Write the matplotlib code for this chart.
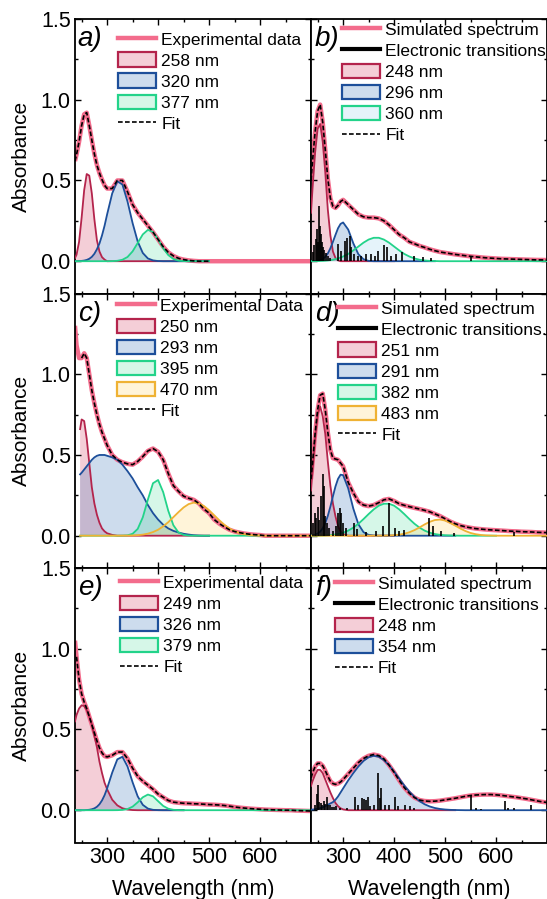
import matplotlib
matplotlib.use("Agg")
import matplotlib.pyplot as plt
from matplotlib.patches import Patch
from matplotlib.lines import Line2D
from matplotlib.colors import to_rgba
from matplotlib.ticker import MultipleLocator

plt.rcParams['font.family'] = ['Liberation Sans', 'DejaVu Sans']

# wavelength grid (nm) shared by every curve
WL = [237, 240, 245, 250, 255, 260, 265, 270, 275, 280, 285, 290, 295, 300,
      310, 320, 330, 340, 350, 360, 370, 380, 390, 400, 410, 420, 430, 440,
      450, 460, 470, 480, 490, 500, 510, 520, 530, 540, 550, 560, 570, 580,
      590, 600, 610, 620, 630, 640, 650, 660, 670, 680, 690, 700]
# panel c components start at 247 nm
WL_C = [247] + WL[3:]

# ---- a) experimental ----
exp_a = [.62, .66, .74, .84, .91, .92, .84, .75, .665, .595, .545, .505, .47, .45,
         .45, .50, .50, .43, .35, .30, .26, .22, .18, .135, .09, .055, .033, .018,
         .01, .005, .002, 0, 0, 0, 0, 0, 0, 0, 0, 0, 0, 0, 0, 0, 0, 0, 0, 0, 0, 0, 0, 0, 0, 0]
fit_a = exp_a[:34]
a_258 = [.02, .04, .12, .27, .44, .54, .53, .42, .26, .13, .06, .025, .01, 0,
         0, 0, 0, 0, 0, 0, 0, 0, 0, 0, 0, 0, 0, 0, 0, 0, 0, 0, 0, 0]
a_320 = [0, 0, .001, .002, .004, .008, .015, .027, .046, .074, .11, .16, .22, .29,
         .42, .495, .475, .37, .236, .122, .051, .017, .005, .001, 0, 0, 0, 0, 0, 0, 0, 0, 0, 0]
a_377 = [0, 0, 0, 0, 0, 0, 0, 0, 0, 0, 0, 0, 0, 0,
         .0005, .0025, .009, .026, .061, .113, .166, .194, .181, .135, .08, .038, .014, .004,
         .001, 0, 0, 0, 0, 0]

# ---- b) simulated ----
sim_b = [.50, .62, .80, .93, .97, .86, .69, .51, .39, .34, .33, .345, .37, .38,
         .35, .32, .29, .275, .27, .27, .265, .25, .225, .195, .165, .145, .12, .108,
         .095, .085, .074, .065, .057, .052, .047, .042, .038, .034, .030, .027, .024, .021,
         .019, .017, .015, .014, .013, .012, .011, .010, .009, .008, .008, .007]
fit_b = sim_b
b_248 = [.30, .45, .67, .82, .85, .74, .55, .32, .16, .06, .02, .005, 0, 0,
         0, 0, 0, 0, 0, 0, 0, 0, 0, 0]
b_296 = [.0002, .0004, .001, .003, .0064, .014, .027, .048, .08, .12, .163, .204, .231, .24,
         .196, .111, .043, .012, .002, 0, 0, 0, 0, 0, 0, 0, 0, 0, 0, 0, 0, 0]
b_360 = [.0003, .0004, .0006, .001, .0015, .002, .003, .0045, .0065, .009, .013, .017, .023, .029,
         .045, .067, .091, .115, .134, .145, .145, .134, .115, .091, .067, .045, .029, .017,
         .009, .0045, .002, .001, 0, 0, 0, 0, 0, 0, 0, 0, 0, 0, 0, 0, 0, 0, 0, 0, 0, 0, 0, 0, 0, 0]
sticks_b_nm = [240, 243, 246, 249, 251, 253, 255, 257, 259, 261, 263, 266, 270, 275,
               290, 296, 303, 308, 313, 316, 321, 329, 336, 345, 355, 362, 368, 381,
               387, 394, 404, 416, 440, 457, 473, 551]
sticks_b_h = [.06, .10, .14, .20, .12, .34, .22, .17, .12, .09, .07, .05, .03, .02,
              .105, .064, .125, .146, .156, .085, .043, .033, .033, .043, .047, .033, .064, .10,
              .085, .033, .043, .054, .033, .025, .02, .025]

# ---- c) experimental ----
exp_c = [1.30, 1.18, 1.10, 1.10, 1.13, 1.10, 1.00, .90, .82, .75, .69, .64, .60, .56,
         .50, .47, .455, .445, .44, .46, .49, .525, .54, .52, .47, .385, .31, .275,
         .245, .232, .222, .20, .165, .14, .10, .075, .055, .037, .026, .019, .013, .009,
         .006, .004, 0, 0, 0, 0, 0, 0, 0, 0, 0, 0]
fit_c = exp_c[3:]
c_250 = [.66, .72, .71, .60, .45, .30, .20, .13, .08, .045, .027, .015,
         .005, 0, 0, 0, 0, 0, 0, 0, 0, 0, 0, 0, 0, 0, 0, 0, 0, 0, 0, 0]
c_293 = [.38, .39, .41, .43, .45, .47, .485, .495, .50, .50, .50, .495,
         .485, .47, .44, .40, .355, .30, .25, .19, .14, .10, .068, .045, .03, .02,
         .012, .007, .003, .001, 0, 0]
c_395 = [0, 0, 0, 0, 0, 0, 0, 0, 0, 0, 0, 0,
         0, 0, .0004, .0023, .012, .042, .114, .224, .325, .345, .27, .154, .065, .02,
         .005, .001, 0, 0, 0, 0, 0, 0, 0, 0, 0, 0, 0, 0, 0, 0]
c_470 = [0, 0, 0, 0, 0, 0, 0, 0, 0, 0, 0, 0,
         0, 0, .0003, .0007, .0015, .0033, .0067, .0127, .0225, .037, .058, .084, .115, .146,
         .175, .196, .205, .20, .184, .158, .127, .096, .068, .045, .028, .016, .0087, .0044,
         .002, .001, 0, 0, 0, 0, 0, 0, 0, 0, 0, 0]

# ---- d) simulated ----
sim_d = [.35, .45, .63, .78, .87, .88, .78, .64, .53, .48, .475, .47, .45, .43,
         .33, .265, .21, .19, .183, .19, .205, .222, .228, .215, .198, .188, .18, .172,
         .165, .157, .148, .135, .122, .105, .088, .074, .063, .055, .049, .044, .041, .038,
         .036, .034, .032, .030, .028, .027, .025, .024, .023, .021, .020, .019]
fit_d = sim_d
d_251 = [.28, .40, .60, .75, .80, .74, .63, .46, .31, .20, .12, .06, .025, .01,
         0, 0, 0, 0, 0, 0, 0, 0, 0, 0]
d_291 = [.0014, .0026, .006, .013, .025, .046, .078, .123, .18, .244, .305, .352, .378, .375,
         .293, .168, .071, .022, .005, .001, 0, 0, 0, 0, 0, 0, 0, 0, 0, 0, 0, 0, 0, 0, 0, 0]
d_382 = [0, 0, 0, .0005, .0008, .0012, .0018, .0026, .0037, .0053, .0075, .0103, .014, .0186,
         .0315, .05, .074, .103, .134, .163, .186, .198, .198, .186, .163, .134, .103, .074,
         .05, .0315, .0186, .0103, .0053, .0026, .0012, .0005, 0, 0, 0, 0, 0, 0, 0, 0]
d_483 = [0, 0, 0, 0, 0, 0, 0, 0, 0, 0, 0, 0, 0, 0,
         0, 0, 0, 0, 0, 0, 0, .0005, .0012, .0028, .0061, .012, .0214, .0347,
         .0515, .07, .086, .097, .10, .094, .08, .0625, .0445, .029, .017, .0093, .0046, .002,
         .0009, 0, 0, 0, 0, 0, 0, 0, 0, 0, 0, 0]
sticks_d_nm = [241, 244, 247, 251, 253, 257, 260, 262, 265, 268, 272, 280, 287, 290, 293,
               296, 300, 305, 322, 327, 345, 365, 378, 391, 401, 410, 420, 469, 476, 492,
               518, 636]
sticks_d_h = [.08, .14, .11, .18, .10, .245, .38, .306, .12, .08, .05, .03, .06, .14, .17,
              .14, .08, .05, .08, .04, .025, .03, .06, .20, .05, .03, .037, .11, .058, .027,
              .017, .02]

# ---- e) experimental ----
exp_e = [1.05, .95, .81, .72, .67, .63, .58, .53, .48, .43, .385, .355, .335, .33,
         .34, .36, .36, .32, .26, .21, .18, .155, .13, .10, .08, .06, .05, .046,
         .043, .042, .04, .039, .037, .035, .034, .032, .029, .025, .02, .016, .013, .01,
         .008, .006, .004, .003, .002, .001, 0, 0, -.002, -.003, -.004, -.005]
fit_e = exp_e[1:]
e_249 = [.55, .59, .63, .65, .645, .62, .58, .53, .46, .39, .30, .23, .17, .13,
         .065, .03, .012, .004, .001, 0, 0, 0, 0, 0, 0, 0, 0, 0, 0]
e_326 = [0, 0, 0, 0, 0, .0012, .0027, .0058, .0114, .0212, .037, .0607, .093, .135,
         .233, .315, .331, .271, .173, .0858, .0332, .01, .0023, .0004, 0, 0, 0, 0, 0]
e_379 = [0, 0, 0, 0, 0, 0, 0, 0, 0, 0, 0, 0, 0, 0,
         0, .0003, .0018, .0073, .022, .049, .08, .097, .086, .056, .0265, .0093, .0024, .0005,
         0, 0, 0, 0, 0, 0, 0, 0, 0, 0, 0, 0, 0, 0, 0, 0, 0, 0, 0, 0, 0, 0, 0, 0, 0, 0]

# ---- f) simulated ----
sim_f = [.20, .23, .27, .29, .29, .275, .245, .21, .18, .165, .16, .165, .175, .19,
         .225, .26, .295, .32, .337, .345, .338, .318, .28, .235, .185, .14, .105, .078,
         .063, .057, .055, .056, .059, .064, .069, .074, .080, .086, .091, .094, .096, .097,
         .097, .095, .092, .088, .084, .08, .075, .07, .064, .058, .052, .048]
fit_f = sim_f
f_248 = [.15, .18, .22, .25, .25, .23, .19, .15, .11, .075, .045, .025, .012, .005,
         0, 0, 0, 0, 0, 0, 0, 0, 0, 0, 0, 0, 0, 0, 0, 0, 0, 0, 0, 0, 0, 0]
f_354 = [.003, .004, .006, .009, .013, .018, .025, .034, .042, .05, .065, .085, .11, .135,
         .185, .23, .271, .305, .328, .337, .331, .31, .279, .239, .196, .153, .115, .082,
         .056, .0366, .023, .0137, .0078, .0043, .0022, .0011, .0005, 0, 0, 0, 0, 0,
         0, 0, 0, 0, 0, 0, 0, 0, 0, 0, 0, 0]
sticks_f_nm = [245, 249, 251, 253, 256, 258, 262, 265, 268, 270, 274, 278, 283, 287, 293,
               307, 323, 329, 337, 341, 344, 348, 353, 360, 368, 372, 375, 382, 391, 401,
               407, 421, 431, 440, 551, 561, 571, 617, 623, 636, 669]
sticks_f_h = [.03, .10, .155, .05, .045, .03, .06, .04, .08, .03, .03, .02, .02, .025, .015,
              .015, .081, .035, .075, .07, .066, .081, .025, .035, .232, .077, .139, .035, .03, .081,
              .025, .031, .025, .015, .087, .015, .01, .056, .015, .015, .03]

# ---- styles ----
PINK = '#F36C8C'
RED = ('#B4244C', '#D94A6E', .27)
BLUE = ('#1D4F9A', '#3A74B8', .25)
GREEN = ('#23D38A', '#33D98C', .2)
GREEN_B = ('#23D38A', '#7EC4E8', .2)
YELLOW = ('#EFB234', '#FFC845', .2)

W, H = 547, 899
fig = plt.figure(figsize=(W / 100, H / 100), dpi=100)


def make_ax(x0, x1, y0, y1):
    return fig.add_axes([x0 / W, 1 - y1 / H, (x1 - x0) / W, (y1 - y0) / H])


rows = [(19, 293.5), (293.5, 568), (568, 842.5)]
axes = [[make_ax(75, 311, *r), make_ax(311, 547, *r)] for r in rows]


def comp(ax, x, y, style):
    edge, face, alpha = style
    x = x[:len(y)]
    ax.fill_between(x, 0, y, facecolor=to_rgba(face, alpha), lw=0, zorder=1)
    ax.plot(x, y, color=edge, lw=1.3, zorder=3)
    return Patch(facecolor=to_rgba(face, alpha), edgecolor=edge, linewidth=1.6)


def main_curve(ax, y):
    ax.plot(WL[:len(y)], y, color=PINK, lw=3.2, zorder=2, solid_capstyle='butt')


def fit_curve(ax, x, y):
    ax.plot(x[:len(y)], y, color='k', lw=1.2, dashes=(2.8, 1.4), zorder=4)


def sticks(ax, nm, h):
    ax.vlines(nm, 0, h, color='k', lw=1.2, zorder=3.5)


h_pink = Line2D([], [], color=PINK, lw=3.2)
h_stick = Line2D([], [], color='k', lw=3)
h_fit = Line2D([], [], color='k', lw=1.2, dashes=(2.8, 1.4))


def legend(ax, handles, labels, x, y):
    ax.legend(handles, labels, loc='upper left', bbox_to_anchor=(x, y), frameon=False,
              fontsize=12.5, borderpad=0, borderaxespad=0, handlelength=2.2,
              handleheight=0.9, handletextpad=0.3, labelspacing=0.28)


# a
ax = axes[0][0]
main_curve(ax, exp_a)
p1 = comp(ax, WL, a_258, RED)
p2 = comp(ax, WL, a_320, BLUE)
p3 = comp(ax, WL, a_377, GREEN)
fit_curve(ax, WL, fit_a)
legend(ax, [h_pink, p1, p2, p3, h_fit],
       ['Experimental data', '258 nm', '320 nm', '377 nm', 'Fit'], 0.182, 0.955)

# b
ax = axes[0][1]
main_curve(ax, sim_b)
p1 = comp(ax, WL, b_248, RED)
p2 = comp(ax, WL, b_296, BLUE)
p3 = comp(ax, WL, b_360, GREEN_B)
sticks(ax, sticks_b_nm, sticks_b_h)
fit_curve(ax, WL, fit_b)
legend(ax, [h_pink, h_stick, p1, p2, p3, h_fit],
       ['Simulated spectrum', 'Electronic transitions', '248 nm', '296 nm', '360 nm', 'Fit'],
       0.131, 0.99)

# c
ax = axes[1][0]
main_curve(ax, exp_c)
p1 = comp(ax, WL_C, c_250, RED)
p2 = comp(ax, WL_C, c_293, BLUE)
p3 = comp(ax, WL_C, c_395, GREEN)
p4 = comp(ax, WL_C, c_470, YELLOW)
fit_curve(ax, WL[3:], fit_c)
legend(ax, [h_pink, p1, p2, p3, p4, h_fit],
       ['Experimental Data', '250 nm', '293 nm', '395 nm', '470 nm', 'Fit'], 0.178, 0.985)

# d
ax = axes[1][1]
main_curve(ax, sim_d)
p1 = comp(ax, WL, d_251, RED)
p2 = comp(ax, WL, d_291, BLUE)
p3 = comp(ax, WL, d_382, GREEN)
p4 = comp(ax, WL, d_483, YELLOW)
sticks(ax, sticks_d_nm, sticks_d_h)
fit_curve(ax, WL, fit_d)
legend(ax, [h_pink, h_stick, p1, p2, p3, p4, h_fit],
       ['Simulated spectrum', 'Electronic transitions.', '251 nm', '291 nm', '382 nm',
        '483 nm', 'Fit'], 0.114, 0.975)

# e
ax = axes[2][0]
main_curve(ax, exp_e)
p1 = comp(ax, WL, e_249, RED)
p2 = comp(ax, WL, e_326, BLUE)
p3 = comp(ax, WL, e_379, GREEN)
fit_curve(ax, WL[1:], fit_e)
legend(ax, [h_pink, p1, p2, p3, h_fit],
       ['Experimental data', '249 nm', '326 nm', '379 nm', 'Fit'], 0.19, 0.975)

# f
ax = axes[2][1]
main_curve(ax, sim_f)
p1 = comp(ax, WL, f_248, RED)
p2 = comp(ax, WL, f_354, BLUE)
sticks(ax, sticks_f_nm, sticks_f_h)
fit_curve(ax, WL, fit_f)
legend(ax, [h_pink, h_stick, p1, p2, h_fit],
       ['Simulated spectrum', 'Electronic transitions', '248 nm', '354 nm', 'Fit'],
       0.10, 0.972)

letters = ['a)', 'b)', 'c)', 'd)', 'e)', 'f)']
for i, row in enumerate(axes):
    for j, ax in enumerate(row):
        ax.set_xlim(237, 700)
        ax.set_ylim(-0.2, 1.5)
        ax.set_xticks([300, 400, 500, 600])
        ax.xaxis.set_minor_locator(MultipleLocator(50))
        ax.set_yticks([0, 0.5, 1.0, 1.5])
        ax.yaxis.set_minor_locator(MultipleLocator(0.25))
        ax.tick_params(which='both', direction='in', top=True, right=True,
                       labelsize=15.5, width=1, pad=3)
        ax.tick_params(which='major', length=4)
        ax.tick_params(which='minor', length=2.5)
        for s in ax.spines.values():
            s.set_linewidth(1.3)
        if i < 2:
            ax.tick_params(labelbottom=False)
        else:
            ax.set_xlabel('Wavelength (nm)', fontsize=15.5, labelpad=8)
        if j == 1:
            ax.tick_params(labelleft=False)
        else:
            ax.set_ylabel('Absorbance', fontsize=15, labelpad=7)
        ax.text(0.012 if j == 0 else 0.017, 0.927, letters[2 * i + j], transform=ax.transAxes,
                fontsize=20, style='italic', va='center', ha='left')

fig.savefig('out.png', dpi=100)
